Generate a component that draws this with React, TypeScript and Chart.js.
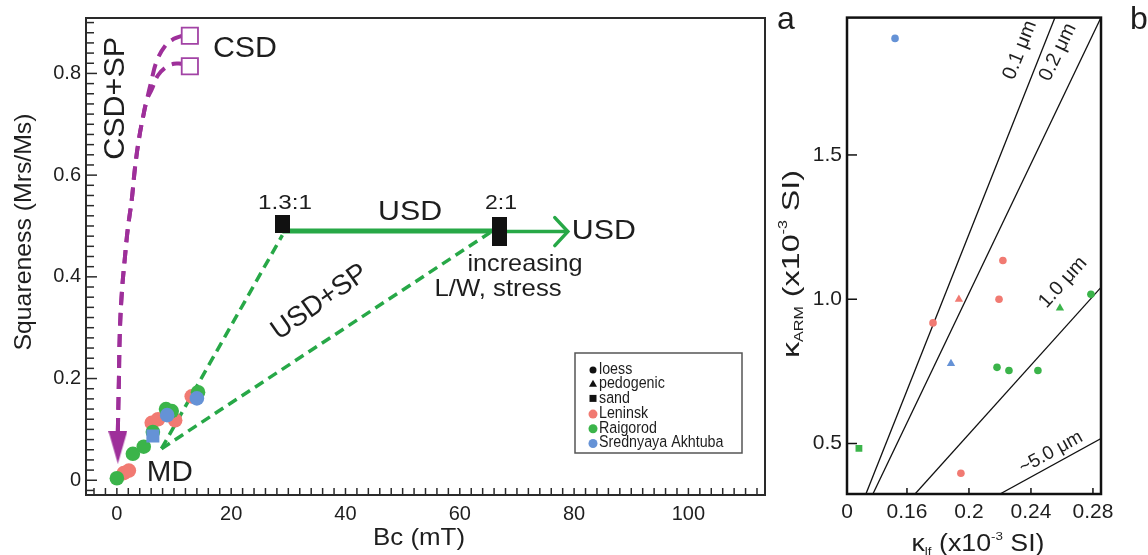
import React, { useEffect, useRef } from 'react';
import { Chart, registerables } from 'chart.js';

Chart.register(...registerables);

const FONT = "'Liberation Sans', Arial, Helvetica, sans-serif";
const TEXT = '#1e1e1e';
const RED = '#F17A72';
const GREEN = '#3BB44A';
const BLUE = '#6592D6';
const LINE_GREEN = '#27A847';
const PURPLE = '#9E2F9A';

// ---------------- Panel a : Day plot ----------------
const bcTicks = [0, 20, 40, 60, 80, 100];
const squarenessTicks = [0, 0.2, 0.4, 0.6, 0.8];
const bcMin = -5.4;
const bcMax = 113.4;
const sqMin = -0.029;
const sqMax = 0.909;

const leninskBc = [1.2, 2.1, 6.1, 7.2, 10.2, 13.1];
const leninskSq = [0.014, 0.019, 0.113, 0.12, 0.118, 0.165];
const raigorodBc = [0, 2.8, 4.7, 6.3, 8.6, 9.6, 14.2];
const raigorodSq = [0.004, 0.052, 0.066, 0.095, 0.14, 0.136, 0.173];
const akhtubaLoessBc = [8.8, 14.0];
const akhtubaLoessSq = [0.128, 0.161];
const akhtubaSandBc = [6.3];
const akhtubaSandSq = [0.087];

const csdUpperBc = [0.17, 0.35, 0.52, 0.87, 1.4, 1.92, 2.62, 3.15, 3.85, 4.72, 5.25, 5.95, 7.0, 8.57, 9.97, 11.37];
const csdUpperSq = [0.097, 0.194, 0.291, 0.369, 0.437, 0.495, 0.553, 0.612, 0.67, 0.722, 0.748, 0.781, 0.825, 0.856, 0.868, 0.874];
const csdLowerBc = [0.17, 0.35, 0.52, 0.87, 1.4, 1.92, 2.62, 3.15, 3.85, 4.72, 5.25, 6.12, 7.17, 8.57, 9.97, 11.37];
const csdLowerSq = [0.097, 0.194, 0.291, 0.369, 0.437, 0.495, 0.553, 0.612, 0.67, 0.722, 0.748, 0.769, 0.796, 0.812, 0.819, 0.819];
const csdEndBc = [12.77, 12.77];
const csdEndSq = [0.874, 0.814];
const mdArrowBc = [0.17];
const mdArrowSq = [0.065];

const usdBc = [28.96, 66.9];
const usdSq = [0.49, 0.49];
const usdArrowBc = [66.9, 78.9];
const usdArrowSq = [0.489, 0.489];
const usdSpSteepBc = [7.8, 28.96];
const usdSpSteepSq = [0.062, 0.482];
const usdSpFlatBc = [7.8, 65.3];
const usdSpFlatSq = [0.062, 0.487];
const ratio13Bc = [28.96];
const ratio13Sq = [0.503];
const ratio21Bc = [66.9];
const ratio21Sq = [0.489];

const legendLabels = ['loess', 'pedogenic', 'sand', 'Leninsk', 'Raigorod', 'Srednyaya Akhtuba'];

const leftNotes = [
  { text: 'CSD+SP', x: -0.17, y: 0.751, angle: -90, size: 30, width: 123 },
  { text: 'CSD', x: 22.4, y: 0.849, angle: 0, size: 30, width: 64 },
  { text: '1.3:1', x: 29.4, y: 0.544, angle: 0, size: 21, width: 54 },
  { text: 'USD', x: 51.3, y: 0.526, angle: 0, size: 28, width: 64 },
  { text: '2:1', x: 67.2, y: 0.544, angle: 0, size: 21, width: 32 },
  { text: 'USD', x: 85.2, y: 0.489, angle: 0, size: 28, width: 64 },
  { text: 'increasing', x: 71.4, y: 0.424, angle: 0, size: 24, width: 115 },
  { text: 'L/W, stress', x: 66.7, y: 0.3755, angle: 0, size: 24, width: 127 },
  { text: 'USD+SP', x: 35.5, y: 0.35, angle: -35, size: 28, width: 111 },
  { text: 'MD', x: 9.27, y: 0.0136, angle: 0, size: 29, width: 46 },
];

// ---------------- Panel b : kARM vs klf ----------------
const klfTicks = [0.16, 0.2, 0.24, 0.28];
const karmTicks = [0.5, 1.0, 1.5];
const klfMin = 0.1213;
const klfMax = 0.2852;
const karmMin = 0.325;
const karmMax = 1.976;

const leninskLoessKlf = [0.2219, 0.2194, 0.1768, 0.1948];
const leninskLoessKarm = [1.134, 1.0, 0.918, 0.397];
const leninskPedoKlf = [0.1935];
const leninskPedoKarm = [1.0];
const raigorodLoessKlf = [0.2787, 0.2181, 0.2258, 0.2445];
const raigorodLoessKarm = [1.017, 0.764, 0.753, 0.753];
const raigorodPedoKlf = [0.2587];
const raigorodPedoKarm = [0.969];
const raigorodSandKlf = [0.129];
const raigorodSandKarm = [0.483];
const akhtubaLoessKlf = [0.1523];
const akhtubaLoessKarm = [1.904];
const akhtubaPedoKlf = [0.1884];
const akhtubaPedoKarm = [0.777];

const grainLines = [
  { label: '0.1 μm', klf: [0.1335, 0.2555], karm: [0.325, 1.976] },
  { label: '0.2 μm', klf: [0.138, 0.2852], karm: [0.325, 1.976] },
  { label: '1.0 μm', klf: [0.1652, 0.2852], karm: [0.325, 1.041] },
  { label: '~5.0 μm', klf: [0.22, 0.2852], karm: [0.325, 0.517] },
];
const grainNotes = [
  { x: 0.2329, y: 1.863, size: 20 },
  { x: 0.2574, y: 1.856, size: 20 },
  { x: 0.2606, y: 1.058, size: 20 },
  { x: 0.2529, y: 0.469, size: 19 },
];

// ---------------- helpers ----------------
const pts = (xs: number[], ys: number[]) => xs.map((x, i) => ({ x, y: ys[i] }));

type Part = { t: string; k?: number; dy?: number };

function drawRich(
  ctx: CanvasRenderingContext2D,
  parts: Part[],
  cx: number,
  cy: number,
  angleDeg: number,
  size: number,
  target?: number,
  color: string = TEXT
) {
  ctx.save();
  ctx.translate(cx, cy);
  ctx.rotate((angleDeg * Math.PI) / 180);
  const fonts = parts.map((p) => `${(size * (p.k ?? 1)).toFixed(1)}px ${FONT}`);
  const widths = parts.map((p, i) => {
    ctx.font = fonts[i];
    return ctx.measureText(p.t).width;
  });
  const total = widths.reduce((s, w) => s + w, 0);
  const sx = target ? target / total : 1;
  ctx.scale(sx, 1);
  ctx.fillStyle = color;
  ctx.textBaseline = 'middle';
  ctx.textAlign = 'left';
  let x = -total / 2;
  parts.forEach((p, i) => {
    ctx.font = fonts[i];
    ctx.fillText(p.t, x, (p.dy ?? 0) * size);
    x += widths[i];
  });
  ctx.restore();
}

function seg(ctx: CanvasRenderingContext2D, x1: number, y1: number, x2: number, y2: number) {
  ctx.beginPath();
  ctx.moveTo(x1, y1);
  ctx.lineTo(x2, y2);
  ctx.stroke();
}

function boxImage(w: number, h: number, fill: string) {
  const c = document.createElement('canvas');
  c.width = w;
  c.height = h;
  const g = c.getContext('2d')!;
  g.fillStyle = fill;
  g.fillRect(0, 0, w, h);
  return c;
}

function downArrowImage(w: number, h: number, fill: string) {
  const c = document.createElement('canvas');
  c.width = w;
  c.height = h;
  const g = c.getContext('2d')!;
  g.fillStyle = fill;
  g.beginPath();
  g.moveTo(0, 0);
  g.lineTo(w, 0);
  g.lineTo(w / 2, h);
  g.closePath();
  g.fill();
  return c;
}

const leftDecor = {
  id: 'leftDecor',
  afterDatasetsDraw(chart: any) {
    const { ctx, chartArea: a, scales } = chart;
    const xs = scales.x;
    const ys = scales.y;
    ctx.save();
    ctx.strokeStyle = '#2a2a2a';
    ctx.lineWidth = 1.5;
    for (let i = -1; i <= 45; i++) {
      const py = ys.getPixelForValue(i * 0.02);
      if (py < a.top + 1 || py > a.bottom - 1) continue;
      const len = i % 10 === 0 ? 11 : 8;
      seg(ctx, a.left, py, a.left + len, py);
    }
    for (let i = -2; i <= 57; i++) {
      const px = xs.getPixelForValue(i * 2);
      if (px < a.left + 1 || px > a.right - 1) continue;
      seg(ctx, px, a.bottom, px, a.bottom - 7);
    }
    ctx.lineWidth = 2;
    ctx.strokeRect(a.left, a.top, a.right - a.left, a.bottom - a.top);

    const ex = xs.getPixelForValue(usdArrowBc[1]);
    const ey = ys.getPixelForValue(usdArrowSq[1]);
    ctx.strokeStyle = LINE_GREEN;
    ctx.lineWidth = 3.5;
    ctx.lineCap = 'round';
    ctx.beginPath();
    ctx.moveTo(ex - 13, ey - 14);
    ctx.lineTo(ex, ey);
    ctx.lineTo(ex - 13, ey + 14);
    ctx.stroke();

    leftNotes.forEach((n) =>
      drawRich(ctx, [{ t: n.text }], xs.getPixelForValue(n.x), ys.getPixelForValue(n.y), n.angle, n.size, n.width)
    );

    ctx.strokeStyle = '#555';
    ctx.lineWidth = 1.5;
    ctx.strokeRect(575, 353, 167, 100);
    const markerColors = ['#111', '#111', '#111', RED, GREEN, BLUE];
    legendLabels.forEach((lab, i) => {
      const y = 369 + i * 14.7;
      const x = 593;
      ctx.fillStyle = markerColors[i];
      ctx.beginPath();
      if (i === 1) {
        ctx.moveTo(x, y - 4);
        ctx.lineTo(x + 4, y + 3);
        ctx.lineTo(x - 4, y + 3);
        ctx.closePath();
      } else if (i === 2) {
        ctx.rect(x - 3.5, y - 3.5, 7, 7);
      } else {
        ctx.arc(x, y + 1, i === 0 ? 3.5 : 4.5, 0, Math.PI * 2);
      }
      ctx.fill();
      ctx.save();
      ctx.translate(599, y);
      ctx.scale(0.92, 1.12);
      ctx.fillStyle = TEXT;
      ctx.font = `15.5px ${FONT}`;
      ctx.textAlign = 'left';
      ctx.textBaseline = 'middle';
      ctx.fillText(lab, 0, 0);
      ctx.restore();
    });

    drawRich(ctx, [{ t: 'Squareness (Mrs/Ms)' }], 24, 232, -90, 24, 237);
    drawRich(ctx, [{ t: 'Bc (mT)' }], 419, 538, 0, 24, 92);
    drawRich(ctx, [{ t: 'a' }], 786, 20, 0, 32);
    ctx.restore();
  },
};

const rightDecor = {
  id: 'rightDecor',
  afterDatasetsDraw(chart: any) {
    const { ctx, chartArea: a, scales } = chart;
    const xs = scales.x;
    const ys = scales.y;
    ctx.save();
    ctx.strokeStyle = '#111';
    ctx.lineWidth = 1.5;
    karmTicks.forEach((v) => {
      const py = ys.getPixelForValue(v);
      seg(ctx, a.left, py, a.left + 10, py);
    });
    klfTicks.forEach((v) => {
      const px = xs.getPixelForValue(v);
      seg(ctx, px, a.bottom, px, a.bottom - 6);
    });
    ctx.lineWidth = 2.5;
    ctx.strokeRect(a.left, a.top, a.right - a.left, a.bottom - a.top);

    grainLines.forEach((g, i) => {
      const x1 = xs.getPixelForValue(g.klf[0]);
      const y1 = ys.getPixelForValue(g.karm[0]);
      const x2 = xs.getPixelForValue(g.klf[1]);
      const y2 = ys.getPixelForValue(g.karm[1]);
      const ang = (Math.atan2(y2 - y1, x2 - x1) * 180) / Math.PI;
      const n = grainNotes[i];
      drawRich(ctx, [{ t: g.label }], xs.getPixelForValue(n.x), ys.getPixelForValue(n.y), ang, n.size);
    });

    drawRich(
      ctx,
      [{ t: 'κ' }, { t: 'ARM', k: 0.5, dy: 0.3 }, { t: ' (x10' }, { t: '-3', k: 0.5, dy: -0.35 }, { t: ' SI)' }],
      32,
      264,
      -90,
      24,
      188
    );
    drawRich(
      ctx,
      [{ t: 'κ' }, { t: 'lf', k: 0.5, dy: 0.3 }, { t: ' (x10' }, { t: '-3', k: 0.5, dy: -0.35 }, { t: ' SI)' }],
      218,
      545,
      0,
      23,
      133
    );
    drawRich(ctx, [{ t: 'b' }], 379, 20, 0, 32);
    ctx.restore();
  },
};

function commonScale(min: number, max: number, ticks: number[], fmt: (v: number) => string, size: number, pad: number) {
  return {
    type: 'linear' as const,
    min,
    max,
    grid: { display: false, drawTicks: false },
    border: { display: false },
    ticks: {
      font: { size, family: FONT },
      color: TEXT,
      padding: pad,
      autoSkip: false,
      maxRotation: 0,
      callback: (v: any) => fmt(Number(v)),
    },
    afterBuildTicks: (axis: any) => {
      axis.ticks = ticks.map((v) => ({ value: v }));
    },
  };
}

export default function App() {
  const leftRef = useRef<HTMLCanvasElement>(null);
  const rightRef = useRef<HTMLCanvasElement>(null);

  useEffect(() => {
    Chart.defaults.font.family = FONT;
    Chart.defaults.color = TEXT;

    const sq13 = boxImage(15, 18, '#111');
    const rect21 = boxImage(15, 29, '#111');
    const mdArrow = downArrowImage(19, 33, PURPLE);

    const leftX = {
      ...commonScale(bcMin, bcMax, bcTicks, (v) => String(v), 20, 7),
      afterFit: (s: any) => {
        s.height = 60;
      },
    };
    const leftY = {
      ...commonScale(sqMin, sqMax, squarenessTicks, (v) => String(v), 20, 5),
      afterFit: (s: any) => {
        s.width = 86;
      },
    };

    const left = new Chart(leftRef.current!, {
      type: 'scatter',
      data: {
        datasets: [
          { data: pts(akhtubaLoessBc, akhtubaLoessSq), pointStyle: 'circle', pointRadius: 7.3, backgroundColor: BLUE, borderWidth: 0 },
          { data: pts(akhtubaSandBc, akhtubaSandSq), pointStyle: 'rect', pointRadius: 9.2, backgroundColor: BLUE, borderWidth: 0 },
          { data: pts(raigorodBc, raigorodSq), pointStyle: 'circle', pointRadius: 7.3, backgroundColor: GREEN, borderWidth: 0 },
          { data: pts(leninskBc, leninskSq), pointStyle: 'circle', pointRadius: 7.3, backgroundColor: RED, borderWidth: 0 },
          { data: pts(csdEndBc, csdEndSq), pointStyle: 'rect', pointRadius: 11.5, backgroundColor: 'rgba(255,255,255,1)', borderColor: '#A243A5', borderWidth: 1.8 },
          { data: pts(ratio13Bc, ratio13Sq), pointStyle: sq13 as any, pointRadius: 9 },
          { data: pts(ratio21Bc, ratio21Sq), pointStyle: rect21 as any, pointRadius: 15 },
          { data: pts(mdArrowBc, mdArrowSq), pointStyle: mdArrow as any, pointRadius: 17 },
          { data: pts(usdBc, usdSq), showLine: true, borderColor: LINE_GREEN, borderWidth: 5, pointRadius: 0 },
          { data: pts(usdArrowBc, usdArrowSq), showLine: true, borderColor: LINE_GREEN, borderWidth: 3.5, pointRadius: 0 },
          { data: pts(usdSpSteepBc, usdSpSteepSq), showLine: true, borderColor: LINE_GREEN, borderWidth: 3.5, borderDash: [10, 6], pointRadius: 0 },
          { data: pts(usdSpFlatBc, usdSpFlatSq), showLine: true, borderColor: LINE_GREEN, borderWidth: 3.5, borderDash: [10, 6], pointRadius: 0 },
          { data: pts(csdUpperBc, csdUpperSq), showLine: true, borderColor: PURPLE, borderWidth: 4, borderDash: [13, 8], pointRadius: 0, tension: 0.4 },
          { data: pts(csdLowerBc, csdLowerSq), showLine: true, borderColor: PURPLE, borderWidth: 4, borderDash: [13, 8], pointRadius: 0, tension: 0.4 },
        ] as any,
      },
      options: {
        responsive: false,
        animation: false,
        devicePixelRatio: 1,
        events: [],
        layout: { padding: { top: 12, right: 35, left: 0, bottom: 0 } },
        plugins: { legend: { display: false }, tooltip: { enabled: false } },
        scales: { x: leftX as any, y: leftY as any },
      },
      plugins: [leftDecor],
    });

    const rightX = {
      ...commonScale(klfMin, klfMax, [klfMin, ...klfTicks], (v) => (v === klfMin ? '0' : String(v)), 21, 6),
      afterFit: (s: any) => {
        s.height = 61;
      },
    };
    const rightY = {
      ...commonScale(karmMin, karmMax, karmTicks, (v) => v.toFixed(1), 21, 5),
      afterFit: (s: any) => {
        s.width = 87;
      },
    };

    const right = new Chart(rightRef.current!, {
      type: 'scatter',
      data: {
        datasets: [
          { data: pts(akhtubaLoessKlf, akhtubaLoessKarm), pointStyle: 'circle', pointRadius: 3.8, backgroundColor: BLUE, borderWidth: 0 },
          { data: pts(akhtubaPedoKlf, akhtubaPedoKarm), pointStyle: 'triangle', pointRadius: 4.8, backgroundColor: BLUE, borderWidth: 0 },
          { data: pts(leninskLoessKlf, leninskLoessKarm), pointStyle: 'circle', pointRadius: 3.8, backgroundColor: RED, borderWidth: 0 },
          { data: pts(leninskPedoKlf, leninskPedoKarm), pointStyle: 'triangle', pointRadius: 4.8, backgroundColor: RED, borderWidth: 0 },
          { data: pts(raigorodLoessKlf, raigorodLoessKarm), pointStyle: 'circle', pointRadius: 3.8, backgroundColor: GREEN, borderWidth: 0 },
          { data: pts(raigorodPedoKlf, raigorodPedoKarm), pointStyle: 'triangle', pointRadius: 4.8, backgroundColor: GREEN, borderWidth: 0 },
          { data: pts(raigorodSandKlf, raigorodSandKarm), pointStyle: 'rect', pointRadius: 4.8, backgroundColor: GREEN, borderWidth: 0 },
          ...grainLines.map((g) => ({
            data: pts(g.klf, g.karm),
            showLine: true,
            borderColor: '#111',
            borderWidth: 1.3,
            pointRadius: 0,
          })),
        ] as any,
      },
      options: {
        responsive: false,
        animation: false,
        devicePixelRatio: 1,
        events: [],
        layout: { padding: { top: 12, right: 47, left: 0, bottom: 0 } },
        plugins: { legend: { display: false }, tooltip: { enabled: false } },
        scales: { x: rightX as any, y: rightY as any },
      },
      plugins: [rightDecor],
    });

    return () => {
      left.destroy();
      right.destroy();
    };
  }, []);

  return (
    <div
      style={{
        position: 'absolute',
        left: 0,
        top: 0,
        width: 1148,
        height: 555,
        background: '#fff',
        overflow: 'hidden',
      }}
    >
      <canvas
        ref={leftRef}
        width={800}
        height={555}
        style={{ position: 'absolute', left: 0, top: 0, width: 800, height: 555 }}
      />
      <canvas
        ref={rightRef}
        width={388}
        height={555}
        style={{ position: 'absolute', left: 760, top: 0, width: 388, height: 555 }}
      />
    </div>
  );
}
